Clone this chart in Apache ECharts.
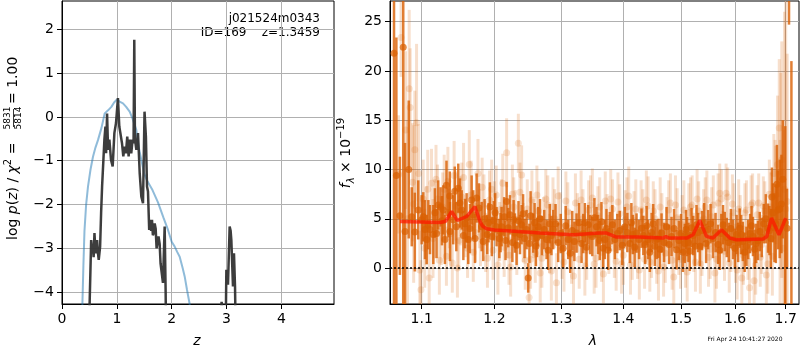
<!DOCTYPE html>
<html>
<head>
<meta charset="utf-8">
<script src="https://cdn.jsdelivr.net/npm/echarts@6/dist/echarts.min.js"></script>
<style>
html, body { margin: 0; padding: 0; background: #fff; }
#main { width: 800px; height: 350px; }
</style>
</head>
<body>
<div id="main"></div>
<script>
// p(z) panel: [z, log p(z)]
var blueCurve = [
  [0.355, -6], [0.372, -4.27], [0.39, -3.4], [0.41, -2.6], [0.44, -2.0], [0.474, -1.59],
  [0.52, -1.2], [0.565, -0.91], [0.61, -0.7], [0.656, -0.53], [0.72, -0.25], [0.778, 0.08],
  [0.84, 0.15], [0.9, 0.23], [0.95, 0.33], [1.003, 0.40], [1.05, 0.35], [1.112, 0.31],
  [1.17, 0.23], [1.234, 0.12], [1.29, -0.05], [1.356, -0.3], [1.40, -0.7], [1.45, -1.0],
  [1.5, -1.3], [1.55, -1.45], [1.65, -1.67], [1.75, -1.95], [1.85, -2.3], [1.933, -2.58],
  [2.0, -2.85], [2.055, -2.96], [2.1, -3.08], [2.146, -3.19], [2.2, -3.45], [2.237, -3.64],
  [2.28, -3.95], [2.328, -4.27], [2.36, -6]
];
var blackCurve = [
  [0.47, -6], [0.532, -2.81], [0.547, -3.0], [0.562, -2.92], [0.577, -3.2], [0.592, -2.65],
  [0.607, -3.0], [0.622, -3.11], [0.64, -2.81], [0.655, -3.1], [0.67, -3.26], [0.695, -2.96],
  [0.713, -2.2], [0.731, -1.59], [0.755, -0.98], [0.773, -0.52], [0.792, -0.22], [0.804, -0.83],
  [0.822, 0.08], [0.84, -0.75], [0.864, -0.52], [0.894, -0.98], [0.924, -1.13], [0.955, -0.37],
  [0.985, -0.14], [1.02, 0.43], [1.045, -0.22], [1.076, -0.18], [1.094, -0.6], [1.118, -0.9],
  [1.142, -0.68], [1.166, -0.83], [1.19, -0.45], [1.215, -0.9], [1.239, -0.52], [1.263, -0.83],
  [1.287, -0.52], [1.305, -0.6], [1.318, 1.76], [1.33, -0.5], [1.356, -0.75], [1.386, -0.37],
  [1.417, -1.29], [1.447, -1.82], [1.477, -1.97], [1.505, 0.12], [1.53, -0.45], [1.55, -1.59],
  [1.568, -1.7], [1.59, -2.58], [1.611, -2.35], [1.625, -2.6], [1.641, -2.35], [1.657, -2.7],
  [1.672, -2.65], [1.69, -2.43], [1.708, -2.55], [1.725, -3.0], [1.739, -3.03], [1.76, -2.73],
  [1.781, -2.9], [1.797, -3.34], [1.812, -3.3], [1.841, -3.79], [1.872, -2.5], [1.89, -4.0],
  [1.905, -6], [2.88, -6], [2.91, -4.22], [2.94, -4.24], [2.955, -4.6], [2.975, -6],
  [2.997, -3.49], [3.027, -3.83], [3.057, -2.5], [3.075, -2.6], [3.088, -2.81], [3.118, -3.87],
  [3.136, -3.11], [3.155, -3.87], [3.18, -6]
];

// spectrum panel: [lambda, flux, error]
var darkPoints = [
  [1.0642, 21.8, 40], [1.0672, 9.4, 14], [1.0717, 5.3, 6], [1.0760, 22.4, 30], [1.0783, 3.7, 9],
  [1.0831, 10.0, 7], [1.0870, 5.2, 3], [1.0910, 3.65, 4], [1.0955, 5.9, 3], [1.1000, 4.9, 2.5],
  [1.1043, 3.9, 3], [1.1066, 2.9, 2.5], [1.1110, 3.9, 2.5], [1.1154, 3.4, 3], [1.1175, 5.6, 2.5],
  [1.1220, 6.4, 2.5], [1.1251, 6.2, 2], [1.1288, 5.9, 2.5], [1.1331, 8.4, 2.5], [1.1376, 7.3, 2.5],
  [1.1378, 3.7, 3], [1.1423, 4.9, 2.5], [1.1444, 7.8, 2.5], [1.1492, 8.1, 2.5], [1.1539, 5.9, 2],
  [1.1585, 4.5, 2.5], [1.1630, 2.9, 2.5], [1.1677, 6.9, 2.5], [1.1747, 7.1, 2.5], [1.1818, 4.2, 2.5],
  [1.1860, 5.0, 2], [1.1897, 3.4, 2], [1.1935, 6.2, 2.5], [1.1990, 4.8, 2], [1.2031, 4.2, 2],
  [1.2070, 3.0, 2], [1.2103, 4.2, 2], [1.2140, 5.2, 2], [1.2176, 6.75, 2], [1.2224, 5.4, 2],
  [1.2260, 2.6, 2], [1.2297, 3.55, 2], [1.2350, 4.8, 2], [1.2396, 4.4, 2], [1.2440, 3.0, 2],
  [1.2494, -1.0, 1.5], [1.2530, 5.3, 2.5], [1.2569, 3.55, 2], [1.2610, 2.2, 2], [1.2644, 4.2, 2],
  [1.2700, 3.3, 2], [1.2772, 2.9, 2], [1.2820, 4.5, 2], [1.2873, 3.9, 2], [1.2950, 2.6, 2],
  [1.3028, 2.0, 2], [1.3106, 2.9, 2], [1.3170, 3.8, 2], [1.3238, 3.55, 2], [1.3318, 2.5, 2],
  [1.3370, 4.6, 2], [1.3423, 4.4, 2], [1.3490, 3.2, 2], [1.3558, 4.2, 2], [1.3610, 2.8, 2],
  [1.3666, 2.0, 2], [1.3720, 4.0, 2], [1.3776, 3.7, 2], [1.3858, 2.9, 2], [1.3940, 3.8, 2],
  [1.4025, 4.2, 2], [1.4109, 2.5, 2], [1.4160, 3.4, 2], [1.4222, 3.55, 2], [1.4307, 4.05, 2],
  [1.4370, 2.4, 2], [1.4421, 2.9, 2], [1.4480, 3.6, 2], [1.4537, 2.2, 2], [1.4600, 3.0, 2],
  [1.4654, 3.55, 2], [1.4742, 4.2, 2], [1.4830, 3.2, 2], [1.4919, 1.85, 2], [1.5000, 3.5, 2],
  [1.5067, 2.5, 2], [1.5110, 3.2, 2], [1.5158, 1.7, 2], [1.5220, 3.3, 2], [1.5280, 4.4, 2],
  [1.5340, 2.2, 2], [1.5420, 4.6, 2], [1.5493, 3.9, 2], [1.5585, 3.0, 2], [1.5679, 2.4, 2],
  [1.5740, 3.5, 2], [1.5805, 3.7, 2], [1.5880, 2.6, 2], [1.5962, 2.9, 2], [1.6030, 3.4, 2],
  [1.6090, 4.05, 2], [1.6150, 2.7, 2], [1.6220, 2.2, 2], [1.6290, 3.5, 2], [1.6348, 3.2, 2],
  [1.6410, 2.5, 2], [1.6480, 3.7, 2], [1.6560, 4.5, 2], [1.6644, 4.05, 2.5], [1.6700, 3.0, 3],
  [1.6744, 5.6, 3], [1.6800, 4.5, 4], [1.6844, 5.9, 4], [1.6913, 6.5, 5], [1.6990, 4.6, 9.8],
  [1.7026, 4.05, 4], [1.7067, 40, 15.3], [1.7116, -10, 31],
  [1.1021, 5.2, 2.5], [1.1088, 4.4, 2.5], [1.1198, 3.5, 2.5], [1.1270, 4.8, 2.5], [1.1310, 2.9, 2.5],
  [1.1356, 5.6, 2.5], [1.1465, 4.2, 2.5], [1.1515, 6.6, 2.5], [1.1562, 3.3, 2.5], [1.1607, 5.1, 2.5],
  [1.1654, 4.0, 2.5], [1.1700, 5.4, 2.5], [1.1724, 3.0, 2.5], [1.1780, 6.1, 2.5], [1.1840, 2.7, 2],
  [1.1915, 4.6, 2], [1.1962, 3.2, 2], [1.2010, 5.6, 2], [1.2088, 3.6, 2], [1.2160, 2.8, 2],
  [1.2200, 4.1, 2], [1.2278, 4.9, 2], [1.2322, 2.3, 2], [1.2372, 3.4, 2], [1.2418, 5.5, 2],
  [1.2470, 3.9, 2], [1.2512, 2.5, 2], [1.2590, 4.6, 2], [1.2627, 3.1, 2], [1.2672, 5.0, 2],
  [1.2736, 3.9, 2], [1.2796, 1.8, 2], [1.2846, 3.3, 2], [1.2910, 4.5, 2], [1.2990, 3.5, 2],
  [1.3067, 4.3, 2], [1.3138, 1.5, 2], [1.3204, 2.7, 2], [1.3278, 4.6, 2], [1.3344, 3.5, 2],
  [1.3396, 2.1, 2], [1.3456, 3.4, 2], [1.3524, 5.1, 2], [1.3584, 3.4, 2], [1.3638, 4.7, 2],
  [1.3693, 2.9, 2], [1.3748, 1.8, 2], [1.3817, 4.4, 2], [1.3899, 3.5, 2], [1.3982, 2.3, 2],
  [1.4067, 3.6, 2], [1.4135, 4.6, 2], [1.4191, 2.1, 2], [1.4265, 2.9, 2], [1.4338, 3.3, 2],
  [1.4395, 4.3, 2], [1.4450, 1.6, 2], [1.4508, 4.5, 2], [1.4568, 2.9, 2], [1.4627, 1.9, 2],
  [1.4698, 2.6, 2], [1.4786, 2.4, 2], [1.4875, 4.0, 2], [1.4960, 2.8, 2], [1.5033, 1.6, 2],
  [1.5089, 3.9, 2], [1.5134, 2.6, 2], [1.5189, 4.1, 2], [1.5250, 2.2, 2], [1.5310, 3.6, 2],
  [1.5380, 3.8, 2], [1.5456, 2.5, 2], [1.5539, 4.5, 2], [1.5632, 3.6, 2], [1.5710, 1.8, 2],
  [1.5772, 4.4, 2], [1.5842, 3.1, 2], [1.5921, 4.0, 2], [1.5996, 2.0, 2], [1.6060, 2.6, 2],
  [1.6120, 3.4, 2], [1.6185, 1.6, 2], [1.6255, 2.9, 2], [1.6319, 4.3, 2], [1.6379, 1.9, 2],
  [1.6445, 2.8, 2], [1.6520, 3.1, 2], [1.6600, 5.0, 2.5], [1.6672, 3.8, 2.5], [1.6722, 7.2, 3],
  [1.6772, 4.1, 3.5], [1.6822, 8.5, 4], [1.6878, 6.0, 5], [1.6940, 9.0, 6]
];
var lightPoints = [
  [1.0700, 9.5, 6], [1.0732, 23.4, 4], [1.0790, 14.0, 8], [1.0837, 18.2, 8], [1.0850, 16.3, 6],
  [1.0880, 8.7, 6], [1.0910, 12.0, 6], [1.0933, 14.75, 8], [1.0960, 9.6, 5], [1.0975, -0.2, 4],
  [1.0990, -2.2, 3], [1.1020, 7.0, 4], [1.1060, 4.3, 4], [1.1099, -1.0, 3], [1.1130, 8.6, 3.5],
  [1.1170, 5.0, 4], [1.1210, 7.0, 3.5], [1.1260, 3.8, 3.5], [1.1300, 8.0, 3.5], [1.1330, 1.2, 3],
  [1.1370, 5.5, 3.5], [1.1410, 0.5, 3], [1.1460, 6.3, 3.5], [1.1500, 2.8, 3], [1.1540, 7.2, 3.5],
  [1.1590, 4.1, 3], [1.1644, 10.5, 3.5], [1.1700, 1.6, 3], [1.1766, 9.6, 3.5], [1.1800, 3.2, 3],
  [1.1850, 6.5, 3], [1.1900, 1.0, 3], [1.1960, 8.0, 3], [1.2000, 5.8, 3], [1.2050, 0.3, 3],
  [1.2100, 6.0, 3], [1.2140, 2.1, 3], [1.2176, 11.7, 3.5], [1.2210, 1.3, 3], [1.2260, 7.5, 3],
  [1.2300, 4.9, 3], [1.2348, 12.66, 3], [1.2396, 9.45, 3], [1.2450, 0.8, 3], [1.2508, -3.0, 3],
  [1.2550, 6.9, 3], [1.2600, 1.5, 3], [1.2650, 5.8, 3], [1.2700, 1.0, 3], [1.2760, 7.0, 3],
  [1.2820, 2.5, 3], [1.2870, 6.2, 3], [1.2923, -1.5, 3], [1.2980, 4.7, 3], [1.3040, 0.6, 3],
  [1.3100, 5.7, 3], [1.3160, 1.4, 3], [1.3220, 6.6, 3], [1.3280, 0.9, 3], [1.3340, 5.0, 3],
  [1.3400, 1.8, 3], [1.3460, 6.4, 3], [1.3520, 0.4, 3], [1.3580, 5.3, 3], [1.3640, 1.6, 3],
  [1.3700, 6.8, 3], [1.3760, 2.4, 3], [1.3820, 6.0, 3], [1.3880, 0.7, 3], [1.3940, 5.5, 3],
  [1.4000, 1.3, 3], [1.4060, 6.2, 3], [1.4120, 0.3, 3], [1.4180, 4.8, 3], [1.4240, 1.9, 3],
  [1.4300, 5.9, 3], [1.4360, 0.9, 3], [1.4420, 6.3, 3], [1.4480, 2.0, 3], [1.4540, 5.0, 3],
  [1.4600, -0.3, 3], [1.4660, 4.6, 3], [1.4720, 1.5, 3], [1.4780, 5.9, 3], [1.4840, 0.8, 3],
  [1.4900, 6.4, 3], [1.4960, 2.3, 3], [1.5020, 4.4, 3], [1.5080, 1.0, 3], [1.5140, 5.6, 3],
  [1.5200, 6.4, 3], [1.5260, 0.6, 3], [1.5320, 5.8, 3], [1.5380, 2.2, 3], [1.5440, 6.2, 3],
  [1.5500, 1.1, 3], [1.5560, 5.2, 3], [1.5620, -0.5, 3], [1.5680, 6.6, 3], [1.5740, 7.0, 3],
  [1.5800, 1.7, 3], [1.5860, 7.2, 3], [1.5920, 2.6, 3], [1.5980, 5.6, 3], [1.6040, -0.2, 3],
  [1.6100, 4.4, 3], [1.6160, 1.3, 3], [1.6220, 5.9, 3], [1.6280, -2.0, 3], [1.6340, 6.6, 3],
  [1.6400, 0.3, 3], [1.6460, 6.6, 3], [1.6520, 2.4, 3], [1.6580, 5.8, 3], [1.6640, 0.4, 3],
  [1.6700, 6.2, 3.5], [1.6760, 9.6, 4], [1.6800, 7.4, 5], [1.6869, 14.2, 7], [1.6900, 9.8, 10],
  [1.6950, 2.0, 12], [1.7000, 6.0, 25], [1.7030, 6.75, 15],
  [1.0815, 5.0, 10], [1.0895, 6.5, 8], [1.1040, 2.0, 4], [1.1080, 8.0, 4], [1.1150, 3.0, 4],
  [1.1190, 9.0, 3.5], [1.1235, 0.8, 3.5], [1.1280, 6.2, 3.5], [1.1350, 8.8, 3.5], [1.1390, 3.5, 3.5],
  [1.1435, 9.4, 3.5], [1.1480, 0.0, 3], [1.1520, 5.8, 3.5], [1.1565, 9.2, 3.5], [1.1620, 2.0, 3],
  [1.1670, 7.4, 3.5], [1.1730, 3.6, 3], [1.1785, 5.0, 3], [1.1825, 8.2, 3], [1.1875, 2.6, 3],
  [1.1930, 6.9, 3], [1.1980, 1.8, 3], [1.2025, 7.4, 3], [1.2075, 3.7, 3], [1.2120, 8.6, 3],
  [1.2190, 4.0, 3], [1.2235, 0.1, 3], [1.2280, 6.2, 3], [1.2325, 2.3, 3], [1.2372, 7.7, 3],
  [1.2420, 3.6, 3], [1.2480, 6.0, 3], [1.2530, 0.9, 3], [1.2575, 4.0, 3], [1.2625, 7.4, 3],
  [1.2675, -0.5, 3], [1.2730, 4.2, 3], [1.2790, 6.4, 3], [1.2845, -0.3, 3], [1.2895, 5.0, 3],
  [1.2950, 7.3, 3], [1.3010, 1.9, 3], [1.3070, 6.8, 3], [1.3130, 2.9, 3], [1.3190, -0.8, 3],
  [1.3250, 4.6, 3], [1.3310, 6.9, 3], [1.3370, 0.2, 3], [1.3430, 5.9, 3], [1.3490, 7.1, 3],
  [1.3550, 1.0, 3], [1.3610, 6.2, 3], [1.3670, -0.6, 3], [1.3730, 4.5, 3], [1.3790, 7.0, 3],
  [1.3850, 2.0, 3], [1.3910, 6.7, 3], [1.3970, 0.4, 3], [1.4030, 4.9, 3], [1.4090, 7.3, 3],
  [1.4150, 1.8, 3], [1.4210, 6.0, 3], [1.4270, -0.2, 3], [1.4330, 5.0, 3], [1.4390, 6.9, 3],
  [1.4450, 0.6, 3], [1.4510, 5.8, 3], [1.4570, 1.4, 3], [1.4630, 6.2, 3], [1.4690, 0.1, 3],
  [1.4750, 4.2, 3], [1.4810, 6.6, 3], [1.4870, -0.9, 3], [1.4930, 5.1, 3], [1.4990, 0.9, 3],
  [1.5050, 5.9, 3], [1.5110, -0.4, 3], [1.5170, 6.2, 3], [1.5230, 2.6, 3], [1.5290, 7.0, 3],
  [1.5350, 0.4, 3], [1.5410, 5.0, 3], [1.5470, 6.9, 3], [1.5530, 1.9, 3], [1.5590, 6.4, 3],
  [1.5650, 0.9, 3], [1.5710, 7.6, 3], [1.5770, 2.8, 3], [1.5830, 7.6, 3], [1.5890, 0.5, 3],
  [1.5950, 6.5, 3], [1.6010, 1.5, 3], [1.6070, 6.0, 3], [1.6130, -1.0, 3], [1.6190, 5.6, 3],
  [1.6250, 1.8, 3], [1.6310, 6.4, 3], [1.6370, -1.3, 3], [1.6430, 5.4, 3], [1.6490, 1.1, 3],
  [1.6550, 6.3, 3], [1.6610, -0.7, 3], [1.6670, 7.5, 3.5], [1.6730, 1.2, 4], [1.6785, 8.0, 5],
  [1.6835, 10.5, 7], [1.6885, 4.0, 9], [1.6920, 11.0, 12], [1.6975, 8.0, 18]
];
// model: [lambda, flux]
var modelLine = [
  [1.0719, 4.72], [1.1244, 4.62], [1.1320, 4.75], [1.1401, 5.74], [1.1478, 4.83], [1.1608, 5.23],
  [1.1723, 6.24], [1.1794, 4.72], [1.1830, 4.25], [1.1888, 3.98], [1.2000, 3.85], [1.2176, 3.78],
  [1.2670, 3.55], [1.3184, 3.38], [1.3612, 3.55], [1.3721, 3.55], [1.3886, 3.14], [1.4278, 3.14],
  [1.4681, 3.04], [1.4730, 3.2], [1.4781, 3.04], [1.5097, 3.04], [1.5217, 3.38], [1.5340, 4.83],
  [1.5463, 3.21], [1.5585, 3.04], [1.5742, 3.89], [1.5900, 3.04], [1.6027, 2.87], [1.6545, 2.94],
  [1.6620, 3.2], [1.6712, 5.07], [1.6864, 3.38], [1.7000, 5.07]
];

var zTicks = [0, 1, 2, 3, 4];
var pTicks = [-4, -3, -2, -1, 0, 1, 2];
var lamTicks = [1.1, 1.2, 1.3, 1.4, 1.5, 1.6, 1.7];
var fTicks = [0, 5, 10, 15, 20, 25];

var FONT = 'DejaVu Sans';
var ORANGE = '217,95,2';

function minus(v) {
  return v < 0 ? '\u2212' + (-v) : String(v);
}
function lg(v) { return Math.log(v); }

function axisBase() {
  return {
    type: 'value',
    axisLine: { show: true, onZero: false, lineStyle: { color: '#000', width: 1 } },
    axisTick: { show: true, inside: false, length: 5, lineStyle: { color: '#000', width: 1 } },
    axisLabel: { color: '#000', fontFamily: FONT, fontSize: 14, margin: 8 },
    splitLine: { show: true, lineStyle: { color: '#b0b0b0', width: 1 } }
  };
}

function errRender(color, width) {
  return function (params, api) {
    var x = api.value(0), y = api.value(1), e = api.value(2);
    var p1 = api.coord([x, y - e]), p2 = api.coord([x, y + e]);
    var cs = params.coordSys;
    var top = cs.y, bot = cs.y + cs.height;
    if (p1[0] < cs.x || p1[0] > cs.x + cs.width) return;
    var y1 = Math.min(Math.max(p1[1], top), bot);
    var y2 = Math.min(Math.max(p2[1], top), bot);
    if (y1 === y2) return;
    return {
      type: 'line',
      shape: { x1: p1[0], y1: y1, x2: p1[0], y2: y2 },
      style: { stroke: color, lineWidth: width }
    };
  };
}

var darkData = darkPoints.map(function (d) { return [lg(d[0]), d[1], d[2]]; });
var lightData = lightPoints.map(function (d) { return [lg(d[0]), d[1], d[2]]; });
var modelData = modelLine.map(function (d) { return [lg(d[0]), d[1]]; });

var x0 = axisBase();
x0.gridIndex = 0; x0.min = 0; x0.max = 4.96; x0.interval = 1;
x0.axisLabel.formatter = minus;
x0.axisLabel.customValues = zTicks;
x0.axisTick.customValues = zTicks;

var y0 = axisBase();
y0.gridIndex = 0; y0.min = -4.27; y0.max = 2.646;
y0.axisLabel.formatter = minus;
y0.axisLabel.customValues = pTicks;
y0.axisTick.customValues = pTicks;

var x1 = axisBase();
x1.gridIndex = 1; x1.min = lg(1.0591); x1.max = lg(1.7272);
x1.axisLabel.customValues = lamTicks.map(lg);
x1.axisTick.customValues = lamTicks.map(lg);
x1.axisLabel.formatter = function (v) { return Math.exp(v).toFixed(1); };

var y1 = axisBase();
y1.gridIndex = 1; y1.min = -3.65; y1.max = 27.1;
y1.axisLabel.customValues = fTicks;
y1.axisTick.customValues = fTicks;

var richBase = {
  n: { fontFamily: FONT, fontSize: 14, color: '#000', lineHeight: 20, verticalAlign: 'middle' },
  i: { fontFamily: FONT, fontSize: 14, color: '#000', fontStyle: 'italic', lineHeight: 20, verticalAlign: 'middle' },
  sup: { fontFamily: FONT, fontSize: 10, color: '#000', verticalAlign: 'top' },
  sub: { fontFamily: FONT, fontSize: 10, color: '#000', fontStyle: 'italic', verticalAlign: 'bottom' }
};

var myChart = echarts.init(document.getElementById('main'), null, { renderer: 'canvas' });
var option = {
  animation: false,
  backgroundColor: '#fff',
  grid: [
    { left: 62, top: 1, width: 272, height: 303, show: true, borderColor: '#000', borderWidth: 1, backgroundColor: 'transparent' },
    { left: 390, top: 1, width: 409, height: 303, show: true, borderColor: '#000', borderWidth: 1, backgroundColor: 'transparent' }
  ],
  xAxis: [x0, x1],
  yAxis: [y0, y1],
  series: [
    {
      type: 'line', xAxisIndex: 0, yAxisIndex: 0, data: blueCurve, symbol: 'none', smooth: false,
      lineStyle: { color: 'rgba(31,119,180,0.5)', width: 2 }, clip: true, z: 3
    },
    {
      type: 'line', xAxisIndex: 0, yAxisIndex: 0, data: blackCurve, symbol: 'none',
      lineStyle: { color: 'rgba(51,51,51,0.95)', width: 2.5 }, clip: true, z: 4
    },
    {
      type: 'custom', xAxisIndex: 1, yAxisIndex: 1, data: lightData,
      renderItem: errRender('rgba(' + ORANGE + ',0.2)', 3), z: 2
    },
    {
      type: 'scatter', xAxisIndex: 1, yAxisIndex: 1, data: lightData.map(function (d) { return [d[0], d[1]]; }),
      symbolSize: 7, itemStyle: { color: 'rgba(' + ORANGE + ',0.22)' }, clip: true, z: 2
    },
    {
      type: 'custom', xAxisIndex: 1, yAxisIndex: 1, data: darkData,
      renderItem: errRender('rgba(' + ORANGE + ',0.8)', 2.5), z: 3
    },
    {
      type: 'scatter', xAxisIndex: 1, yAxisIndex: 1, data: darkData.map(function (d) { return [d[0], d[1]]; }),
      symbolSize: 7, itemStyle: { color: 'rgba(' + ORANGE + ',0.9)' }, clip: true, z: 3
    },
    {
      type: 'line', xAxisIndex: 1, yAxisIndex: 1, data: modelData, symbol: 'none',
      lineStyle: { color: 'rgba(255,20,0,0.7)', width: 3.5 }, clip: true, z: 5,
      markLine: {
        silent: true, symbol: 'none', label: { show: false },
        lineStyle: { color: '#000', width: 1.5, type: [2, 2] },
        data: [{ yAxis: 0 }]
      }
    }
  ],
  graphic: [
    {
      type: 'text', right: 480, top: 13,
      style: { text: 'j021524m0343', fontFamily: FONT, fontSize: 12, fill: '#000', textAlign: 'right' }
    },
    {
      type: 'text', right: 480, top: 27,
      style: { text: 'ID=169    z=1.3459', fontFamily: FONT, fontSize: 12, fill: '#000', textAlign: 'right' }
    },
    {
      type: 'text', x: 197, y: 341,
      style: { text: 'z', fontFamily: FONT, fontSize: 14, fontStyle: 'italic', fill: '#000', align: 'center', verticalAlign: 'middle' }
    },
    {
      type: 'text', x: 593, y: 341,
      style: { text: 'λ', fontFamily: FONT, fontSize: 14, fontStyle: 'italic', fill: '#000', align: 'center', verticalAlign: 'middle' }
    },
    {
      type: 'text', x: 745, y: 339,
      style: { text: 'Fri Apr 24 10:41:27 2020', fontFamily: FONT, fontSize: 6, fill: '#000', align: 'center', verticalAlign: 'middle' }
    },
    {
      type: 'group', x: 13, y: 152, rotation: Math.PI / 2,
      children: [
        {
          type: 'text', x: -88, y: 0,
          style: {
            text: '{n|log }{i|p}{n|(}{i|z}{n|) / }{i|χ}{sup|2}{n| = }',
            rich: richBase, align: 'left', verticalAlign: 'middle'
          }
        },
        {
          type: 'text', x: 34, y: -5,
          style: { text: '5831', fontFamily: FONT, fontSize: 9, fill: '#000', align: 'center', verticalAlign: 'middle' }
        },
        {
          type: 'line', shape: { x1: 25, y1: 0.5, x2: 43, y2: 0.5 }, style: { stroke: '#000', lineWidth: 0.8 }
        },
        {
          type: 'text', x: 34, y: 6,
          style: { text: '5814', fontFamily: FONT, fontSize: 9, fill: '#000', align: 'center', verticalAlign: 'middle' }
        },
        {
          type: 'text', x: 48, y: 0,
          style: { text: '= 1.00', fontFamily: FONT, fontSize: 14, fill: '#000', align: 'left', verticalAlign: 'middle' }
        }
      ]
    },
    {
      type: 'group', x: 346, y: 153, rotation: Math.PI / 2,
      children: [
        {
          type: 'text', x: 0, y: 0,
          style: {
            text: '{i|f}{sub|λ}{n| × 10}{sup|−19}',
            rich: richBase, align: 'center', verticalAlign: 'middle'
          }
        }
      ]
    }
  ]
};
if (option && typeof option === 'object') {
  myChart.setOption(option, true);
}
</script>
</body>
</html>
